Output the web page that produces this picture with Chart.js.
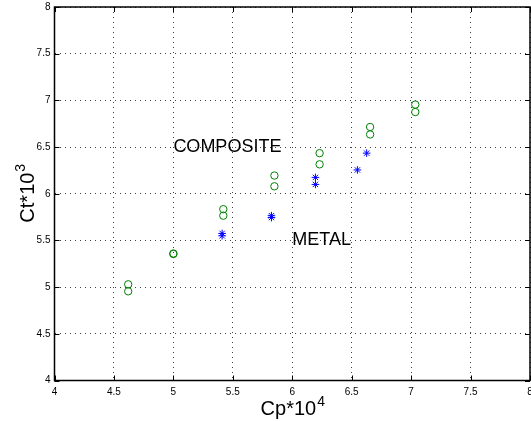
<!DOCTYPE html>
<html>
<head>
<meta charset="utf-8">
<script src="https://cdn.jsdelivr.net/npm/chart.js@4/dist/chart.umd.min.js"></script>
<style>
  body { margin: 0; background: #fff; }
  #wrap { width: 531px; height: 421px; }
</style>
</head>
<body>
<div id="wrap"><canvas id="c" width="531" height="421"></canvas></div>
<script>
// composite blades (green circles)
const compositeX = [4.62, 4.62, 5.0, 5.0, 5.42, 5.42, 5.85, 5.85, 6.23, 6.23, 6.655, 6.655, 7.035, 7.035];
const compositeY = [5.03, 4.955, 5.36, 5.355, 5.835, 5.765, 6.195, 6.08, 6.435, 6.315, 6.715, 6.635, 6.955, 6.875];
// metal blades (blue stars)
const metalX = [5.41, 5.41, 5.825, 5.825, 6.195, 6.195, 6.548, 6.626];
const metalY = [5.575, 5.55, 5.765, 5.745, 6.175, 6.1, 6.255, 6.435];
// axis ticks
const xTicks = [4, 4.5, 5, 5.5, 6, 6.5, 7, 7.5, 8];
const yTicks = [4, 4.5, 5, 5.5, 6, 6.5, 7, 7.5, 8];
// text labels placed in data units
const notes = [
  { text: 'COMPOSITE', x: 5.0, y: 6.5 },
  { text: 'METAL', x: 6.0, y: 5.5 }
];

const toPoints = (xs, ys) => xs.map((x, i) => ({ x: x, y: ys[i] }));
const FONT = '"Liberation Sans", Arial, Helvetica, sans-serif';

// box, inward ticks, labels and axis titles in MATLAB style
const matlabFrame = {
  id: 'matlabFrame',
  afterDatasetsDraw(chart) {
    const { ctx, chartArea: a, scales } = chart;
    ctx.save();
    ctx.strokeStyle = '#000';
    ctx.lineWidth = 1;
    ctx.beginPath();
    xTicks.forEach(v => {
      const px = Math.round(scales.x.getPixelForValue(v)) + 0.5;
      ctx.moveTo(px, a.bottom); ctx.lineTo(px, a.bottom - 5);
      ctx.moveTo(px, a.top); ctx.lineTo(px, a.top + 5);
    });
    yTicks.forEach(v => {
      const py = Math.round(scales.y.getPixelForValue(v)) + 0.5;
      ctx.moveTo(a.left, py); ctx.lineTo(a.left + 5, py);
      ctx.moveTo(a.right, py); ctx.lineTo(a.right - 5, py);
    });
    ctx.stroke();
    ctx.lineWidth = 1.5;
    ctx.strokeRect(a.left, a.top, a.right - a.left, a.bottom - a.top);

    // notes
    ctx.fillStyle = '#000';
    ctx.font = '18px ' + FONT;
    ctx.textAlign = 'left';
    ctx.textBaseline = 'middle';
    notes.forEach(n => {
      ctx.fillText(n.text, scales.x.getPixelForValue(n.x), scales.y.getPixelForValue(n.y));
    });

    // titles with superscript
    const drawTitle = (base, sup) => {
      ctx.font = '20px ' + FONT;
      const w1 = ctx.measureText(base).width;
      ctx.font = '14px ' + FONT;
      const w2 = ctx.measureText(sup).width;
      const start = -(w1 + w2) / 2;
      ctx.textAlign = 'left';
      ctx.textBaseline = 'alphabetic';
      ctx.font = '20px ' + FONT;
      ctx.fillText(base, start, 0);
      ctx.font = '14px ' + FONT;
      ctx.fillText(sup, start + w1 + 1, -9);
    };
    ctx.save();
    ctx.translate((a.left + a.right) / 2, 415);
    drawTitle('Cp*10', '4');
    ctx.restore();

    ctx.save();
    ctx.translate(34, (a.top + a.bottom) / 2);
    ctx.rotate(-Math.PI / 2);
    drawTitle('Ct*10', '3');
    ctx.restore();
    ctx.restore();
  }
};

const gridStyle = {
  color: 'rgba(0,0,0,0.75)',
  lineWidth: 1,
  drawTicks: false
};

new Chart(document.getElementById('c').getContext('2d'), {
  type: 'scatter',
  data: {
    datasets: [
      {
        label: 'Composite',
        data: toPoints(compositeX, compositeY),
        pointStyle: 'circle',
        pointRadius: 3.7,
        borderColor: '#008000',
        backgroundColor: 'rgba(0,0,0,0)',
        borderWidth: 1
      },
      {
        label: 'Metal',
        data: toPoints(metalX, metalY),
        pointStyle: 'star',
        pointRadius: 3.8,
        borderColor: '#0000ff',
        backgroundColor: '#0000ff',
        borderWidth: 1
      }
    ]
  },
  options: {
    responsive: false,
    animation: false,
    layout: { autoPadding: false, padding: { top: 7, right: 1, left: 0, bottom: 0 } },
    plugins: {
      legend: { display: false },
      tooltip: { enabled: false }
    },
    scales: {
      x: {
        type: 'linear',
        min: 4, max: 8,
        afterFit: s => { s.height = 40.5; s.paddingLeft = 0; s.paddingRight = 0; },
        afterBuildTicks: s => { s.ticks = xTicks.map(v => ({ value: v })); },
        grid: gridStyle,
        border: { display: false, dash: [1, 4] },
        ticks: {
          padding: 6,
          color: '#000',
          font: { family: FONT, size: 10 },
          maxRotation: 0,
          callback: v => String(v)
        }
      },
      y: {
        type: 'linear',
        min: 4, max: 8,
        afterFit: s => { s.width = 54.5; s.paddingTop = 0; s.paddingBottom = 0; },
        afterBuildTicks: s => { s.ticks = yTicks.map(v => ({ value: v })); },
        grid: gridStyle,
        border: { display: false, dash: [1, 4] },
        ticks: {
          padding: 4,
          color: '#000',
          font: { family: FONT, size: 10 },
          callback: v => String(v)
        }
      }
    }
  },
  plugins: [matlabFrame]
});
</script>
</body>
</html>
